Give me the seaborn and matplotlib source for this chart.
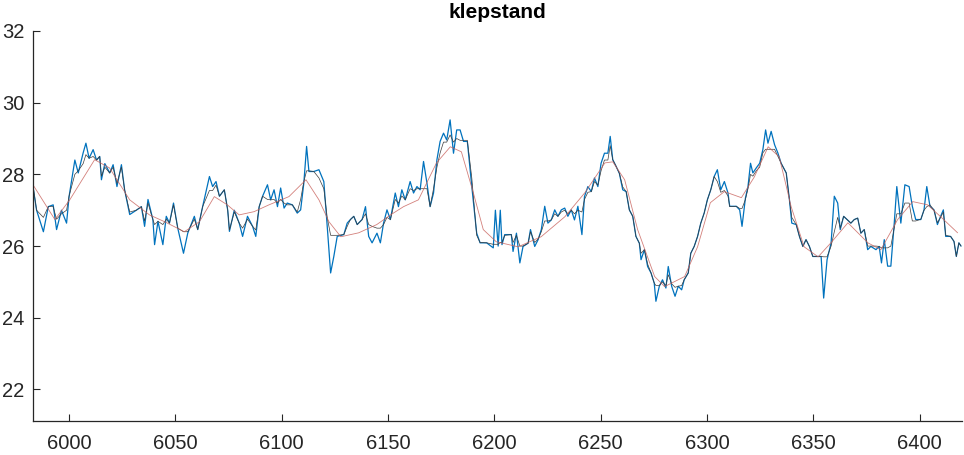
import numpy as np
import pandas as pd
import seaborn as sns
import matplotlib.pyplot as plt

# ---- data ----
t = [5983.0, 5984.7, 5987.9, 5990.2, 5992.5, 5994.1, 5996.4, 5998.8, 6000.0, 6002.7,
     6004.3, 6006.6, 6007.9, 6009.4, 6011.3, 6012.9, 6014.4, 6015.2, 6016.8, 6019.1,
     6020.7, 6022.5, 6024.6, 6026.1, 6028.5, 6031.6, 6034.0, 6035.5, 6037.1, 6039.4,
     6040.2, 6041.8, 6044.1, 6045.7, 6047.2, 6049.1, 6051.1, 6053.8, 6055.8, 6058.9,
     6060.5, 6062.8, 6066.0, 6067.5, 6069.1, 6070.7, 6073.0, 6074.6, 6075.4, 6077.7,
     6080.0, 6081.6, 6083.9, 6086.3, 6087.8, 6089.4, 6091.0,
     6093.3, 6094.8, 6096.4, 6098.0, 6099.5, 6101.1, 6102.6, 6105.0, 6107.3, 6108.9,
     6110.4, 6111.7, 6112.8, 6115.1, 6117.5, 6119.8, 6121.4, 6123.0, 6124.5, 6126.1,
     6129.2, 6130.8, 6132.3, 6133.9, 6135.5, 6137.8, 6139.4, 6140.9, 6142.5, 6144.8,
     6146.4, 6147.9, 6149.5, 6151.1, 6153.4, 6154.9, 6156.5, 6158.1, 6160.4, 6162.0,
     6163.6, 6165.1, 6166.7, 6168.3, 6169.8, 6171.4, 6173.0, 6174.5, 6176.1, 6177.6,
     6179.2, 6180.8, 6182.3, 6183.9, 6185.5, 6187.3, 6189.4, 6191.7, 6193.3, 6196.4,
     6199.5, 6200.5, 6201.8, 6202.8, 6203.6,
     6204.9, 6208.0, 6208.8, 6210.4, 6212.0, 6213.5, 6215.9, 6217.0, 6219.0, 6220.6,
     6222.1, 6223.7, 6225.2, 6226.8, 6228.4, 6229.9, 6231.5, 6233.1, 6234.6, 6236.2,
     6237.7, 6239.3, 6241.2, 6242.4, 6244.0, 6245.6, 6247.1, 6248.7, 6250.2, 6251.8,
     6253.4, 6254.5, 6255.7, 6257.3, 6258.8, 6260.4, 6262.0, 6263.5, 6265.1, 6266.6,
     6268.2, 6269.0, 6270.6, 6272.1, 6273.7, 6275.2, 6276.0, 6277.6, 6279.1, 6280.7,
     6281.8, 6283.4, 6285.0, 6286.5, 6288.1, 6289.3, 6291.2, 6292.4, 6294.0, 6295.6,
     6297.1, 6298.7, 6300.2, 6301.8, 6303.4, 6304.9, 6306.5,
     6308.2, 6309.9, 6310.7, 6313.8, 6315.4, 6316.5, 6318.1, 6319.3, 6320.5, 6321.6,
     6323.2, 6324.8, 6326.3, 6327.6, 6328.7, 6330.2, 6331.8, 6333.4, 6334.9, 6337.3,
     6338.8, 6339.9, 6342.0, 6343.5, 6345.1, 6346.6, 6348.2, 6349.8, 6352.1, 6353.7,
     6354.9, 6356.5, 6358.4, 6359.9, 6361.5, 6362.7, 6364.3, 6365.9, 6367.7, 6369.3,
     6370.9, 6372.4, 6374.0, 6375.6, 6377.1, 6379.5, 6381.0, 6382.1, 6383.4, 6385.0,
     6386.5, 6388.1, 6389.3, 6391.2, 6393.1, 6395.1, 6396.6, 6398.2, 6400.6, 6402.1,
     6403.4, 6404.9, 6406.8, 6408.4, 6409.9, 6411.2, 6412.3, 6414.6, 6416.2, 6417.3,
     6418.5, 6419.5]

raw = [27.66, 27.0, 26.4, 27.1, 27.15, 26.46, 27.0, 26.64, 27.39, 28.4,
       28.04, 28.6, 28.87, 28.45, 28.69, 28.4, 28.5, 27.85, 28.3, 28.04,
       28.27, 27.66, 28.27, 27.57, 26.88, 27.0, 27.1, 26.55, 27.3, 26.74,
       26.04, 26.69, 26.04, 26.83, 26.64, 27.2, 26.5, 25.8, 26.36, 26.83,
       26.46, 27.1, 27.94, 27.66, 27.8, 27.39, 27.57, 27.0, 26.41, 27.0,
       26.64, 26.27, 26.83, 26.55, 26.27, 27.1, 27.39,
       27.71, 27.29, 27.57, 27.1, 27.62, 27.06, 27.2, 27.15, 26.92, 27.01,
       27.76, 28.78, 28.08, 28.08, 28.13, 27.8, 26.55, 25.25, 25.71, 26.27,
       26.32, 26.64, 26.74, 26.83, 26.6, 26.74, 27.1, 26.27, 26.09, 26.36,
       26.09, 26.64, 27.01, 26.74, 27.48, 27.1, 27.57, 27.29, 27.8, 27.48,
       27.66, 27.57, 28.36, 27.76, 27.1, 27.48, 28.41, 28.92, 29.15, 28.96,
       29.52, 28.59, 29.24, 29.24, 28.92, 28.92, 27.66, 26.36, 26.09, 26.09,
       25.95, 27.0, 26.0, 27.0, 26.04,
       26.32, 26.32, 25.85, 26.36, 25.53, 25.99, 26.08, 26.46, 25.99, 26.18,
       26.46, 27.11, 26.64, 26.73, 27.01, 26.83, 27.01, 27.06, 26.83, 27.01,
       26.73, 27.11, 26.32, 27.38, 27.66, 27.52, 27.9, 27.66, 28.31, 28.59,
       28.59, 29.06, 28.41, 28.22, 28.03, 27.57, 27.52, 27.01, 26.83, 26.27,
       26.08, 25.62, 25.9, 25.43, 25.25, 24.97, 24.46, 24.88, 25.06, 24.83,
       25.43, 24.88, 24.6, 24.88, 24.78, 25.06, 25.25, 25.8, 25.99, 26.27,
       26.64, 26.92, 27.29, 27.57, 27.94, 28.13, 27.57,
       27.8, 27.48, 27.11, 27.11, 27.01, 26.55, 27.34, 27.66, 28.31, 28.04,
       28.18, 28.31, 28.69, 29.24, 28.87, 29.2, 28.83, 28.59, 28.31, 28.04,
       27.29, 26.64, 26.6, 26.27, 25.99, 26.18, 25.99, 25.71, 25.71, 25.71,
       24.55, 25.62, 26.09, 27.39, 27.2, 26.46, 26.83, 26.74, 26.64, 26.74,
       26.78, 26.36, 26.46, 25.9, 25.99, 25.9, 25.99, 25.53, 26.18, 25.44,
       25.44, 26.64, 27.66, 26.64, 27.71, 27.66, 27.11, 26.74, 26.74, 27.01,
       27.66, 27.11, 27.01, 26.6, 26.83, 27.01, 26.27, 26.27, 26.13, 25.71,
       26.09, 26.0]

filtered = [27.7, 27.0, 26.8, 27.1, 27.1, 26.75, 26.9, 27.0, 27.4, 28.0,
            28.1, 28.3, 28.55, 28.45, 28.5, 28.4, 28.5, 27.95, 28.2, 28.04,
            28.2, 27.75, 28.2, 27.57, 26.95, 27.0, 27.1, 26.7, 27.2, 26.74,
            26.6, 26.69, 26.6, 26.75, 26.64, 27.15, 26.5, 26.4, 26.4, 26.75,
            26.46, 27.1, 27.55, 27.55, 27.7, 27.39, 27.57, 27.0, 26.45, 26.95,
            26.64, 26.5, 26.75, 26.55, 26.45, 27.1, 27.39,
            27.3, 27.29, 27.3, 27.2, 27.3, 27.2, 27.15, 27.15, 26.95, 27.3,
            27.8, 28.1, 28.1, 28.08, 27.9, 27.6, 26.8, 26.3, 26.3, 26.3,
            26.32, 26.55, 26.74, 26.83, 26.6, 26.74, 26.9, 26.6, 26.55, 26.5,
            26.5, 26.6, 26.8, 26.74, 27.3, 27.2, 27.4, 27.29, 27.6, 27.55,
            27.6, 27.6, 27.6, 27.6, 27.1, 27.6, 28.2, 28.6, 28.9, 28.9,
            29.1, 28.9, 29.0, 28.95, 28.95, 28.95, 27.9, 26.3, 26.1, 26.09,
            26.05, 26.05, 26.05, 26.1, 26.1,
            26.3, 26.32, 26.1, 26.3, 26.0, 26.0, 26.08, 26.4, 26.1, 26.2,
            26.4, 26.7, 26.7, 26.73, 26.9, 26.83, 26.95, 27.0, 26.9, 27.0,
            26.9, 27.0, 26.95, 27.3, 27.5, 27.52, 27.8, 27.7, 28.1, 28.4,
            28.4, 28.8, 28.41, 28.22, 28.03, 27.65, 27.52, 27.01, 26.83, 26.27,
            26.08, 25.8, 25.9, 25.5, 25.25, 24.97, 24.9, 24.9, 25.0, 24.9,
            25.2, 24.95, 24.85, 24.88, 24.9, 25.06, 25.25, 25.8, 25.99, 26.27,
            26.64, 26.92, 27.29, 27.57, 27.94, 27.8, 27.5,
            27.55, 27.4, 27.1, 27.11, 27.05, 27.05, 27.3, 27.6, 28.0, 27.95,
            28.1, 28.2, 28.6, 28.7, 28.7, 28.7, 28.7, 28.5, 28.31, 28.04,
            27.29, 26.8, 26.6, 26.27, 25.99, 26.18, 25.99, 25.71, 25.71, 25.71,
            25.7, 25.7, 26.0, 26.4, 26.8, 26.5, 26.83, 26.74, 26.64, 26.74,
            26.78, 26.36, 26.46, 26.0, 26.0, 26.0, 25.99, 25.95, 25.95, 25.95,
            26.0, 26.5, 26.9, 26.9, 27.2, 27.2, 26.7, 26.7, 26.75, 27.0,
            27.1, 27.15, 27.0, 26.65, 26.8, 26.95, 26.3, 26.27, 26.13, 25.71,
            26.09, 26.0]

t_smooth = [5983.0, 5993.3, 6000.3, 6012.0, 6019.0, 6028.5, 6037.8, 6044.9, 6054.2, 6061.3,
            6068.3, 6074.4, 6080.0, 6087.0, 6094.0, 6103.4, 6111.4, 6117.5, 6122.2, 6127.8,
            6136.2, 6144.7, 6151.2, 6157.3, 6164.3, 6172.8, 6179.3, 6184.5, 6190.1, 6194.8,
            6200.9, 6211.2, 6222.0, 6233.2, 6242.6, 6252.0, 6255.7, 6261.3, 6267.4, 6275.4,
            6280.1, 6289.5, 6295.6, 6301.6, 6308.2, 6316.2, 6322.3, 6328.8, 6334.0, 6339.6,
            6345.7, 6352.3, 6358.3, 6366.3, 6375.7, 6381.8, 6389.7, 6396.8, 6403.8, 6409.9,
            6417.9]
smooth = [27.71, 26.74, 27.29, 28.41, 28.18, 27.29, 26.87, 26.68, 26.4, 26.68,
          27.38, 27.15, 26.87, 26.96, 27.15, 27.38, 27.85, 27.29, 26.68, 26.26,
          26.37, 26.6, 26.87, 27.1, 27.29, 28.32, 28.77, 28.63, 27.49, 26.46,
          26.12, 25.98, 26.26, 26.82, 27.49, 28.32, 28.35, 27.85, 26.46, 25.15,
          24.87, 25.15, 25.98, 27.21, 27.52, 27.35, 27.93, 28.77, 28.49, 27.1,
          25.98, 25.7, 26.09, 26.65, 26.09, 25.9, 26.74, 27.24, 27.15, 26.82,
          26.37]

xticks = [6000, 6050, 6100, 6150, 6200, 6250, 6300, 6350, 6400]
yticks = [22, 24, 26, 28, 30, 32]

df = pd.DataFrame({'t': t, 'raw': raw, 'filtered': filtered})
df_s = pd.DataFrame({'t': t_smooth, 'smooth': smooth})

sns.set_style('ticks')
plt.rcParams['font.family'] = ['Liberation Sans', 'DejaVu Sans']

fig = plt.figure(figsize=(9.64, 4.55), dpi=100)
ax = fig.add_axes([0.0342, 0.0747, 0.9638, 0.8572])

sns.lineplot(data=df, x='t', y='raw', ax=ax, color='#0072BD', lw=0.9,
             estimator=None, sort=False)
sns.lineplot(data=df, x='t', y='filtered', ax=ax, color='#3c3c3c', lw=0.5,
             estimator=None, sort=False)
sns.lineplot(data=df_s, x='t', y='smooth', ax=ax, color='#c8605a', lw=0.6,
             alpha=0.8, estimator=None, sort=False)

ax.set_xlim(5983, 6420)
ax.set_ylim(21.12, 32)
ax.set_xticks(xticks)
ax.set_yticks(yticks)
ax.set_xlabel('')
ax.set_ylabel('')
ax.set_title('klepstand', fontsize=15, fontweight='bold', pad=9, color='black')
ax.tick_params(direction='in', length=5, width=0.8, labelsize=14.5,
               labelcolor='#262626')
ax.tick_params(axis='x', pad=9)
ax.tick_params(axis='y', pad=6)
sns.despine(ax=ax)
for s in ['left', 'bottom']:
    ax.spines[s].set_linewidth(0.9)
    ax.spines[s].set_color('#262626')

plt.savefig('out.png', dpi=100)
